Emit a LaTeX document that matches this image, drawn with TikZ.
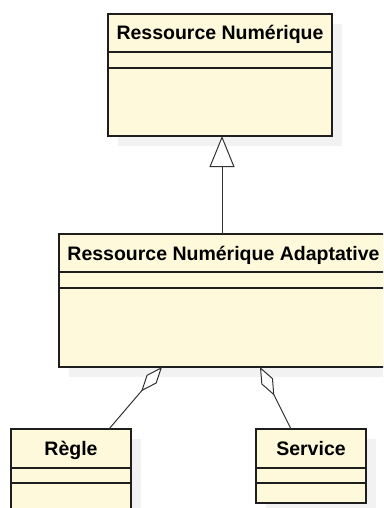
\documentclass[tikz,border=0pt]{standalone}
\usepackage{fontspec}
\setmainfont{Liberation Sans}
\usepackage{tikz}
\usetikzlibrary{arrows.meta,positioning,shadows}
\definecolor{classfill}{RGB}{253,249,218}
\definecolor{classline}{RGB}{30,30,30}

\begin{document}
\begin{tikzpicture}[x=1pt, y=-1pt,
  classbox/.style={rectangle, draw=classline, line width=1.2pt, fill=classfill, inner sep=0pt, outer sep=0pt,
    general shadow={fill=black!5, shadow xshift=10pt, shadow yshift=-10pt}},
  classname/.style={font=\fontsize{19.5}{22}\selectfont\bfseries, inner sep=0pt, anchor=base},
  sep/.style={draw=classline, line width=1.2pt},
  inherit/.style={-{Triangle[open, length=31pt, width=25pt, fill=white]}, draw=black!80, line width=1pt},
  aggreg/.style={-{Diamond[open, length=32pt, width=13pt, fill=white]}, draw=black!80, line width=1pt}
]
\useasboundingbox (0,0) rectangle (383,508);
\clip (0,0) rectangle (383,508);

% classes
\node[classbox, minimum width=224pt, minimum height=122pt] (res) at (220,75) {};
\node[classbox, minimum width=329pt, minimum height=133pt, below=98pt of res, xshift=3.5pt] (rna) {};
\node[classbox, minimum width=120pt, minimum height=90pt] (regle) at (71,474) {};
\node[classbox, minimum width=110pt, minimum height=74pt] (service) at (311,466) {};

% names
\node[classname] (resname) at ([yshift=-26pt]res.north) {Ressource Numérique};
\node[classname] (rnaname) at ([yshift=-26pt]rna.north) {Ressource Numérique Adaptative};
\node[classname] (reglename) at ([yshift=-26.5pt]regle.north) {Règle};
\node[classname] (servicename) at ([yshift=-26.5pt]service.north) {Service};

% compartments
\draw[sep] ([yshift=-38pt]res.north west) -- ([yshift=-38pt]res.north east);
\draw[sep] ([yshift=-54pt]res.north west) -- ([yshift=-54pt]res.north east);
\draw[sep] ([yshift=-38pt]rna.north west) -- ([yshift=-38pt]rna.north east);
\draw[sep] ([yshift=-54pt]rna.north west) -- ([yshift=-54pt]rna.north east);
\draw[sep] ([yshift=-39pt]regle.north west) -- ([yshift=-39pt]regle.north east);
\draw[sep] ([yshift=-54pt]regle.north west) -- ([yshift=-54pt]regle.north east);
\draw[sep] ([yshift=-39pt]service.north west) -- ([yshift=-39pt]service.north east);
\draw[sep] ([yshift=-54pt]service.north west) -- ([yshift=-54pt]service.north east);

% relations
\draw[inherit] ([xshift=2pt]res.south |- rna.north) -- ([xshift=2pt]res.south);
\draw[aggreg] ([xshift=38pt]regle.north) -- ([xshift=-61.5pt]rna.south);
\draw[aggreg] ([xshift=-20pt]service.north) -- ([xshift=36.5pt]rna.south);
\end{tikzpicture}
\end{document}
